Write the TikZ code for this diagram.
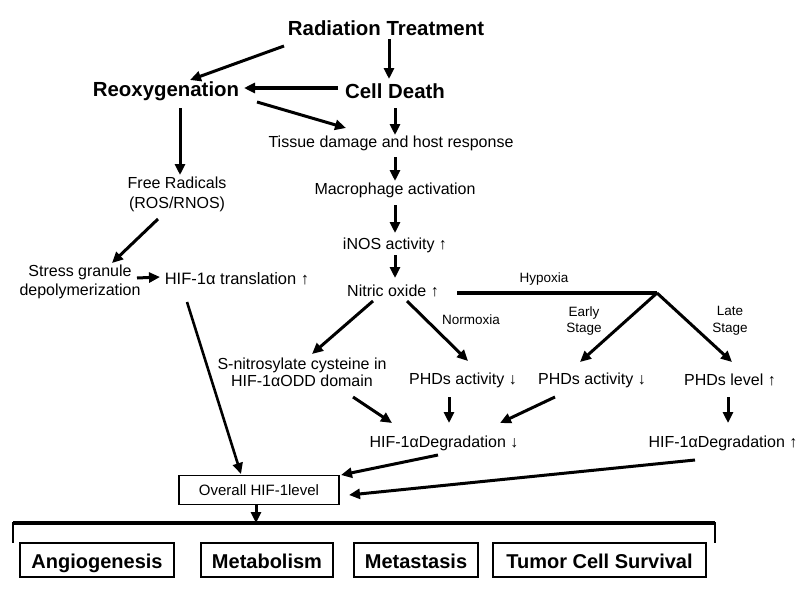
\documentclass[tikz,border=0pt]{standalone}
\usepackage{fontspec}
\setmainfont{Liberation Sans}
\usetikzlibrary{arrows.meta,calc}
\begin{document}
\begin{tikzpicture}[x=1pt,y=-1pt,
  big/.style={font=\fontsize{20.4}{24}\selectfont\bfseries, inner sep=0pt},
  txt/.style={font=\fontsize{16}{19}\selectfont, inner sep=0pt, align=center},
  lbl/.style={font=\fontsize{13.5}{16.7}\selectfont, inner sep=0pt, align=center},
  arr/.style={line width=3pt, -{Triangle[length=11pt,width=10pt]}},
  thinarr/.style={line width=2.6pt, -{Triangle[length=11pt,width=10pt]}},
  outbox/.style={draw, line width=1.2pt, minimum height=34pt, inner sep=0pt,
    text height=16pt, text depth=0pt,
    font=\fontsize{20}{24}\selectfont\bfseries}]
\useasboundingbox[fill=white] (0,0) rectangle (800,597);

% nodes
\node[big] (rt) at (386,28) {Radiation Treatment};
\node[big] (reox) at (166,91) {Reoxygenation};
\node[big] (cd) at (395,91) {Cell Death};
\node[txt] (tissue) at (391,143) {Tissue damage and host response};
\node[txt, font=\fontsize{16}{20}\selectfont] (free) at (177,194) {Free Radicals\\(ROS/RNOS)};
\node[txt] (macro) at (395,190) {Macrophage activation};
\node[txt] (inos) at (395,245) {iNOS activity ↑};
\node[txt] (no) at (393,291) {Nitric oxide ↑};
\node[txt] (stress) at (80,282) {Stress granule\\depolymerization};
\node[txt, font=\fontsize{16.5}{19}\selectfont] (hift) at (237,279) {HIF-1α translation ↑};
\node[lbl] (hyp) at (544,279) {Hypoxia};
\node[lbl] (norm) at (471,320) {Normoxia};
\node[lbl] (early) at (584,321) {Early\\Stage};
\node[lbl] (late) at (730,321) {Late\\Stage};
\node[txt, font=\fontsize{16}{17}\selectfont] (snit) at (302,372) {S-nitrosylate cysteine in\\HIF-1αODD domain};
\node[txt] (phd1) at (463,380) {PHDs activity ↓};
\node[txt] (phd2) at (592,380) {PHDs activity ↓};
\node[txt] (phdl) at (730,380) {PHDs level ↑};
\node[txt] (deg1) at (444,443) {HIF-1αDegradation ↓};
\node[txt] (deg2) at (723,443) {HIF-1αDegradation ↑};
\node[draw, line width=1.4pt, minimum width=160pt, minimum height=29pt, inner sep=0pt,
  font=\fontsize{15}{18}\selectfont] (overall) at (259,490) {Overall HIF-1level};
\node[outbox, minimum width=154pt] (ang) at (97,560) {Angiogenesis};
\node[outbox, minimum width=132pt] (met) at (267,560) {Metabolism};
\node[outbox, minimum width=124pt] (mts) at (416,560) {Metastasis};
\node[outbox, minimum width=213pt] (tcs) at (599.5,560) {Tumor Cell Survival};

\coordinate (hj) at (657,293);
\coordinate (brtop) at (256,523);

% bracket
\draw[line width=3.5pt] (13,523) -- (715,523);
\draw[line width=2pt] (13,522) -- (13,543);
\draw[line width=2pt] (715,522) -- (715,543);

% connectors
\draw[arr] ($(rt)+(-102,18)$) -- ($(reox)+(24,-11)$);
\draw[arr] ($(rt)+(3,11)$) -- ($(cd)+(-6,-12)$);
\draw[arr, line width=3.8pt] ($(cd)+(-57,-3)$) -- ($(reox)+(78,-3)$);
\draw[arr] ($(reox)+(91,11)$) -- ($(tissue)+(-45,-15)$);
\draw[arr] ($(cd)+(0,17)$) -- ($(tissue)+(4,-8)$);
\draw[arr] ($(reox)+(14,17)$) -- ($(free)+(3,-19)$);
\draw[arr] ($(tissue)+(4,14)$) -- ($(macro)+(0,-9)$);
\draw[arr] ($(macro)+(0,15)$) -- ($(inos)+(0,-12)$);
\draw[arr] ($(inos)+(0,10)$) -- ($(no)+(2,-13)$);
\draw[arr] ($(free)+(-19,25)$) -- ($(stress)+(32,-19)$);
\draw[arr] ($(stress)+(57,-4)$) -- ($(hift)+(-77,-2)$);
\draw[thinarr] ($(hift)+(-50,23)$) -- ($(overall)+(-18,-16)$);
\draw[line width=3.5pt] ($(no)+(64,2)$) -- (hj);
\draw[arr] (hj) -- ($(phd2)+(-12,-18)$);
\draw[arr] (hj) -- ($(phdl)+(2,-18)$);
\draw[arr] ($(no)+(-20,10)$) -- ($(snit)+(10,-18)$);
\draw[arr] ($(no)+(14,10)$) -- ($(phd1)+(5,-19)$);
\draw[arr] ($(snit)+(51,25)$) -- ($(deg1)+(-52,-20)$);
\draw[arr] ($(phd1)+(-14,17)$) -- ($(deg1)+(5,-20)$);
\draw[arr] ($(phd2)+(-37,17)$) -- ($(deg1)+(56,-20)$);
\draw[arr] ($(phdl)+(-2,17)$) -- ($(deg2)+(5,-20)$);
\draw[arr] ($(deg1)+(-6,12)$) -- ($(overall)+(82,-15)$);
\draw[arr] ($(deg2)+(-28,17)$) -- ($(overall)+(90,5)$);
\draw[arr] ($(overall)+(-3,15)$) -- (brtop);
\end{tikzpicture}
\end{document}
